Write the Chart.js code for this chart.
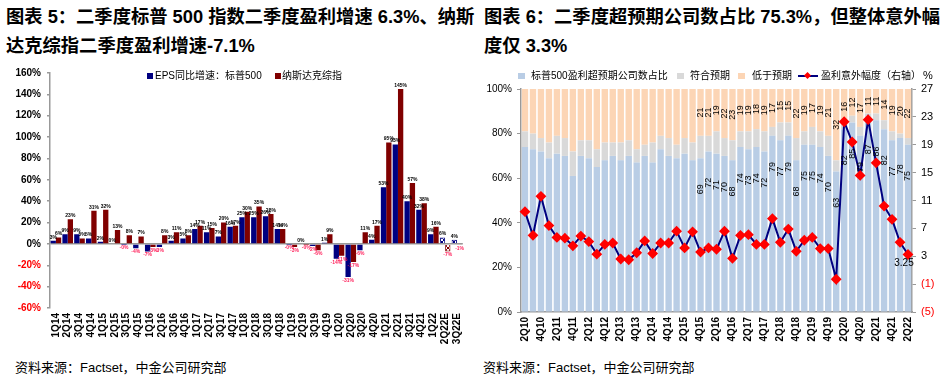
<!DOCTYPE html>
<html>
<head>
<meta charset="utf-8">
<script src="https://cdn.jsdelivr.net/npm/chart.js@4/dist/chart.umd.min.js"></script>
<style>
body { margin:0; width:948px; height:385px; background:#fff; position:relative; overflow:hidden;
  font-family:"Liberation Sans","Noto Sans CJK SC",sans-serif; color:#000; }
.title { position:absolute; top:2px; font-weight:bold; font-size:18.3px; line-height:29px; white-space:nowrap; }
.src { position:absolute; top:357px; font-size:13px; white-space:nowrap; }
.lg { position:absolute; top:70px; font-size:10px; line-height:12px; white-space:nowrap; }
.sq { position:absolute; width:6px; height:6px; }
canvas { position:absolute; }
</style>
</head>
<body>
<div class="title" style="left:6px">图表 5：二季度标普 500 指数二季度盈利增速 6.3%、纳斯<br>达克综指二季度盈利增速-7.1%</div>
<div class="title" style="left:484px">图表 6：二季度超预期公司数占比 75.3%，但整体意外幅<br>度仅 3.3%</div>

<canvas id="left" width="474" height="290" style="left:0;top:60px"></canvas>
<canvas id="right" width="470" height="290" style="left:478px;top:60px"></canvas>

<!-- legends -->
<div class="sq" style="left:147px;top:73px;background:#000080"></div>
<div class="lg" style="left:155px">EPS同比增速：标普500</div>
<div class="sq" style="left:275px;top:73px;background:#800000"></div>
<div class="lg" style="left:282px">纳斯达克综指</div>

<div class="sq" style="left:518px;top:73px;width:7px;background:#b9cde5"></div>
<div class="lg" style="left:531px">标普500盈利超预期公司数占比</div>
<div class="sq" style="left:677px;top:73px;width:7px;background:#d9d9d9"></div>
<div class="lg" style="left:690px">符合预期</div>
<div class="sq" style="left:738px;top:73px;width:7px;background:#fcd5b5"></div>
<div class="lg" style="left:752px">低于预期</div>
<div style="position:absolute;left:798px;top:75px;width:20px;height:2px;background:#000080"></div>
<div style="position:absolute;left:805px;top:73px;width:5px;height:5px;background:#ff0000;transform:rotate(45deg)"></div>
<div class="lg" style="left:821px">盈利意外幅度（右轴）</div>
<div class="lg" style="left:923px;top:69px;font-size:11px">%</div>

<div class="src" style="left:15px">资料来源：Factset，中金公司研究部</div>
<div class="src" style="left:483px">资料来源：Factset，中金公司研究部</div>

<script>
// ---------- 图表5 data ----------
var quartersL = ['1Q14','2Q14','3Q14','4Q14','1Q15','2Q15','3Q15','4Q15','1Q16','2Q16','3Q16','4Q16',
  '1Q17','2Q17','3Q17','4Q17','1Q18','2Q18','3Q18','4Q18','1Q19','2Q19','3Q19','4Q19',
  '1Q20','2Q20','3Q20','4Q20','1Q21','2Q21','3Q21','4Q21','1Q22','2Q22E','3Q22E'];
var spEps = [3, 9, 9, 5, 2, 0, -0.3, -4, -7, -3, 3, 5, 14, 11, 7, 16, 25, 25, 26, 14,
  -0.3, 0, -2, 1, -14, -31, -6, 4, 53, 93, 40, 32, 9, 6, 4];
var nasdaq = [6, 23, 5, 31, 32, 13, 8, 7, -3, 8, 11, 8, 17, 15, 20, 17, 30, 35, 28, 14,
  -3, -0.3, -6, 9, -11, -17, 11, 17, 95, 145, 57, 38, 16, -7, -1];
var yTicksL = [-60, 160, 20];   // min, max, step

// ---------- 图表6 data ----------
var quartersR = ['2Q10','3Q10','4Q10','1Q11','2Q11','3Q11','4Q11','1Q12','2Q12','3Q12','4Q12',
  '1Q13','2Q13','3Q13','4Q13','1Q14','2Q14','3Q14','4Q14','1Q15','2Q15','3Q15','4Q15',
  '1Q16','2Q16','3Q16','4Q16','1Q17','2Q17','3Q17','4Q17','1Q18','2Q18','3Q18','4Q18',
  '1Q19','2Q19','3Q19','4Q19','1Q20','2Q20','3Q20','4Q20','1Q21','2Q21','3Q21','4Q21','1Q22','2Q22'];
var beat = [74, 73, 72, 69, 71, 70, 61, 70, 69, 65, 68, 70, 68, 70, 67, 70, 67, 73, 70, 69, 71, 68,
  69, 72, 71, 70, 68, 74, 73, 74, 72, 79, 77, 79, 68, 75, 75, 74, 70, 63, 82, 85, 79, 87, 86, 82, 77, 78, 75];
var miss = [19, 20, 22, 24, 21, 22, 28, 23, 23, 27, 24, 24, 24, 23, 27, 25, 24, 21, 22, 25, 22, 24,
  21, 21, 19, 22, 23, 19, 19, 18, 19, 17, 15, 15, 22, 19, 17, 19, 21, 32, 16, 12, 17, 11, 11, 14, 19, 20, 22];
var inLine = beat.map(function (b, i) { return 100 - b - miss[i]; });
var surprise = [9.4, 6.0, 11.6, 7.4, 5.7, 5.6, 4.5, 5.9, 5.1, 3.3, 4.7, 4.9, 2.6, 2.5, 3.5, 5.2, 3.4,
  4.9, 4.9, 6.6, 4.2, 6.5, 3.6, 4.2, 4.0, 6.6, 2.7, 6.0, 6.1, 4.7, 4.7, 8.4, 5.0, 6.9, 3.7, 5.3,
  5.7, 4.1, 4.1, -0.3, 22.3, 19.4, 14.6, 22.6, 16.4, 10.2, 8.3, 5.0, 3.25];
var labelFrom = '4Q15';        // bar labels shown from this quarter on
var yTicksR1 = [-5, 27, 4];    // right axis min, max, step

var FONT = 'Liberation Sans';
var NAVY = '#000080', MAROON = '#800000';

function hatch(color) {
  var c = document.createElement('canvas');
  c.width = 4; c.height = 4;
  var g = c.getContext('2d');
  g.fillStyle = '#fff'; g.fillRect(0, 0, 4, 4);
  g.strokeStyle = color; g.lineWidth = 1;
  g.beginPath(); g.moveTo(0, 0); g.lineTo(4, 4); g.moveTo(4, 0); g.lineTo(0, 4); g.stroke();
  return g.createPattern(c, 'repeat');
}
function isEst(q) { return q.slice(-1) === 'E'; }
function pct(v) { return v < 0 ? '-' + Math.round(-v) + '%' : Math.round(v) + '%'; }

var barLabels = {
  id: 'barLabels',
  afterDatasetsDraw: function (chart) {
    var ctx = chart.ctx;
    ctx.save();
    ctx.font = 'bold 5px ' + FONT;
    ctx.textAlign = 'center';
    chart.data.datasets.forEach(function (ds, i) {
      chart.getDatasetMeta(i).data.forEach(function (bar, j) {
        var v = ds.data[j];
        if (v >= 0) {
          ctx.fillStyle = '#000'; ctx.textBaseline = 'bottom';
          ctx.fillText(pct(v), bar.x, bar.y - 1);
        } else {
          ctx.fillStyle = '#ff1f5a'; ctx.textBaseline = 'top';
          ctx.fillText(pct(v), bar.x, bar.y + 1);
        }
      });
    });
    ctx.restore();
  }
};

new Chart(document.getElementById('left'), {
  type: 'bar',
  data: {
    labels: quartersL,
    datasets: [
      { label: 'EPS同比增速：标普500', data: spEps,
        backgroundColor: quartersL.map(function (q) { return isEst(q) ? hatch(NAVY) : NAVY; }),
        borderColor: NAVY,
        borderWidth: quartersL.map(function (q) { return isEst(q) ? 1 : 0; }) },
      { label: '纳斯达克综指', data: nasdaq,
        backgroundColor: quartersL.map(function (q) { return isEst(q) ? hatch(MAROON) : MAROON; }),
        borderColor: MAROON,
        borderWidth: quartersL.map(function (q) { return isEst(q) ? 1 : 0; }) }
    ]
  },
  options: {
    responsive: false, animation: false, devicePixelRatio: 1,
    layout: { padding: { top: 13, right: 4, left: 0, bottom: 0 } },
    datasets: { bar: { barPercentage: 1, categoryPercentage: 0.9 } },
    plugins: { legend: { display: false }, tooltip: { enabled: false } },
    scales: {
      x: {
        grid: { display: false, drawTicks: false }, border: { display: false },
        ticks: { autoSkip: false, minRotation: 90, maxRotation: 90, padding: 5,
          font: { family: FONT, size: 10, weight: 'bold' }, color: '#000' },
        afterFit: function (s) { s.height = 42; }
      },
      y: {
        min: yTicksL[0], max: yTicksL[1],
        ticks: { stepSize: yTicksL[2], padding: 6,
          callback: function (v) { return v + '%'; },
          font: { family: FONT, size: 10, weight: 'bold' },
          color: function (c) { return c.tick.value < 0 ? '#ff0000' : '#000'; } },
        grid: { color: function (c) { return c.tick && c.tick.value === 0 ? '#999' : 'rgba(0,0,0,0)'; },
          tickColor: '#999', tickLength: 3, lineWidth: 1.5 },
        border: { color: '#999', width: 1.5 },
        afterFit: function (s) { s.width = 50; }
      }
    }
  },
  plugins: [barLabels]
});

var stackLabels = {
  id: 'stackLabels',
  afterDatasetsDraw: function (chart) {
    var ctx = chart.ctx, y = chart.scales.y;
    var bars = chart.getDatasetMeta(0).data;
    var start = quartersR.indexOf(labelFrom);
    ctx.save();
    ctx.font = '9px ' + FONT;
    ctx.fillStyle = '#000';
    ctx.textAlign = 'center';
    ctx.textBaseline = 'middle';
    for (var j = start; j < quartersR.length; j++) {
      var x = bars[j].x;
      [[beat[j], y.getPixelForValue(beat[j] - 14)], [miss[j], y.getPixelForValue(100 - miss[j] / 2)]]
        .forEach(function (p) {
          ctx.save();
          ctx.translate(x, p[1]);
          ctx.rotate(-Math.PI / 2);
          ctx.fillText(String(p[0]), 0, 0);
          ctx.restore();
        });
    }
    var pts = chart.getDatasetMeta(3).data;
    var last = pts[pts.length - 1];
    ctx.font = '10px ' + FONT;
    ctx.fillText(String(surprise[surprise.length - 1]), last.x - 4, last.y + 9);
    ctx.restore();
  }
};

new Chart(document.getElementById('right'), {
  type: 'bar',
  data: {
    labels: quartersR,
    datasets: [
      { label: '标普500盈利超预期公司数占比', data: beat, backgroundColor: '#b9cde5', order: 1 },
      { label: '符合预期', data: inLine, backgroundColor: '#d9d9d9', order: 1 },
      { label: '低于预期', data: miss, backgroundColor: '#fcd5b5', order: 1 },
      { label: '盈利意外幅度（右轴）', type: 'line', data: surprise, yAxisID: 'y1', order: 0,
        borderColor: NAVY, borderWidth: 2, tension: 0,
        pointStyle: 'rectRot', pointRadius: 4, pointBackgroundColor: '#ff0000', pointBorderColor: '#ff0000' }
    ]
  },
  options: {
    responsive: false, animation: false, devicePixelRatio: 1,
    layout: { padding: { top: 29, right: 0, left: 0, bottom: 0 } },
    datasets: { bar: { barPercentage: 0.8, categoryPercentage: 1 } },
    plugins: { legend: { display: false }, tooltip: { enabled: false } },
    scales: {
      x: {
        stacked: true,
        grid: { display: false, drawTicks: false }, border: { color: '#999', width: 1.5 },
        ticks: { autoSkip: false, minRotation: 90, maxRotation: 90, padding: 5,
          font: { family: FONT, size: 10, weight: 'bold' }, color: '#000',
          callback: function (v, i) { return i % 2 === 0 ? this.getLabelForValue(v) : ''; } },
        afterFit: function (s) { s.height = 38; }
      },
      y: {
        stacked: true, min: 0, max: 100, position: 'left',
        ticks: { stepSize: 20, padding: 5, callback: function (v) { return v + '%'; },
          font: { family: FONT, size: 10 }, color: '#000' },
        grid: { drawOnChartArea: false, tickColor: '#999', tickLength: 4 },
        border: { color: '#999', width: 1.5 },
        afterFit: function (s) { s.width = 43; }
      },
      y1: {
        min: yTicksR1[0], max: yTicksR1[1], position: 'right',
        ticks: { stepSize: yTicksR1[2], padding: 5,
          callback: function (v) { return v < 0 ? '(' + (-v) + ')' : v; },
          font: { family: FONT, size: 11 },
          color: function (c) { return c.tick.value < 0 ? '#ff0000' : '#000'; } },
        grid: { drawOnChartArea: false, tickColor: '#999', tickLength: 4 },
        border: { color: '#999', width: 1.5 },
        afterFit: function (s) { s.width = 36; }
      }
    }
  },
  plugins: [stackLabels]
});
</script>
</body>
</html>
